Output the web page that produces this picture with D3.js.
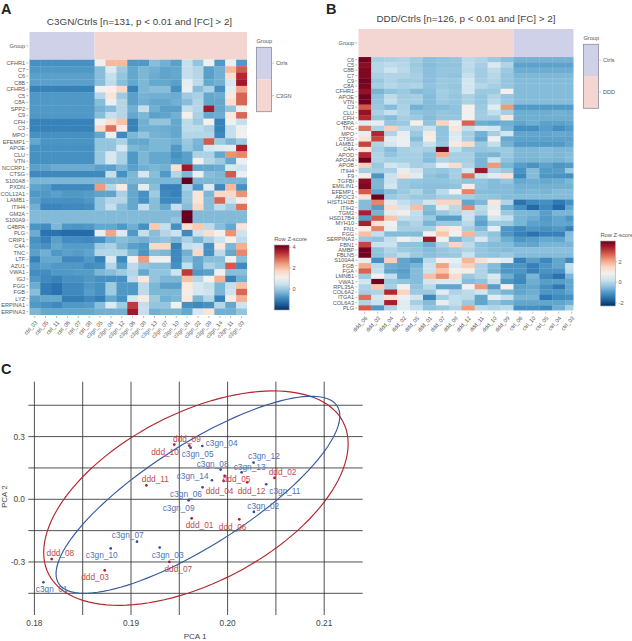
<!DOCTYPE html>
<html>
<head>
<meta charset="utf-8">
<script src="https://cdn.jsdelivr.net/npm/d3@7/dist/d3.min.js"></script>
<style>
html,body{margin:0;padding:0;background:#fff}
svg{display:block}
text{font-family:"Liberation Sans",Arial,sans-serif}
</style>
</head>
<body>
<svg id="fig" width="632" height="641"></svg>
<script>
// ---------- Panel A data ----------
const genesA = ["CFHR1","C7","C6","C8B","CFHR5","C5","C8A","SPP2","C9","CFH","C3","MPO","EFEMP1","APOE","CLU","VTN","NCCRP1","CTSG","S100A8","PXDN","COL12A1","LAMB1","ITIH4","GM2A","S100A9","C4BPA","PLG","CRIP1","C4A","TNC","LTF","AZU1","VWA1","IGJ","FGG","FGB","LYZ","ERPINA1","ERPINA3"];
const samplesA = ["ctrl_03","ctrl_05","ctrl_11","ctrl_06","ctrl_07","ctrl_08","c3gn_05","c3gn_04","c3gn_12","c3gn_06","c3gn_08","c3gn_13","c3gn_07","c3gn_10","c3gn_01","c3gn_02","c3gn_09","c3gn_14","c3gn_11","c3gn_03"];
const groupCountsA = [["Ctrls",6],["C3GN",14]];
const zA = [
[-.8,-.8,-.8,-.8,-.8,-.8, 1,2.1,2.1,-.7,-.7,-.2, -.4,-.6,.4,-.1,1,-.7,.9,-.7],
[-.7,-.7,-.7,-.7,-.7,-.7, -.2,.7,0,-.5,-.3,-.4, -.55,-.5,.4,.2,-.6,-.4,2.1,3],
[-.6,-.6,-.6,-.6,-.6,-.6, -.2,.4,-.1,-.5,-.3,-.45, -.55,-.5,.4,.2,-.6,-.4,1.6,3.5],
[-.6,-.6,-.6,-.6,-.6,-.6, -.2,.3,-.2,-.5,-.3,-.5, -.5,-.6,.8,.3,-.5,-.4,.6,3.7],
[-1,-1,-1,-1,-1,-1, 1.2,1.2,1.7,-1,-.3,-.2, -.2,-.8,.9,-.2,.1,-.8,.8,2.3],
[-.7,-.7,-.7,-.7,-.7,-.7, .2,1.5,0,-.6,-.35,-.4, -.4,-.45,0,.1,-.5,-.45,1.4,2.9],
[-.7,-.7,-.7,-.7,-.7,-.7, -.2,.9,.2,-.6,-.4,-.5, -.5,-.4,-.2,.2,-.5,-.5,1.6,2.9],
[-.7,-.7,-.7,-.7,-.7,-.7, -.35,-.2,.2,-.4,.4,-.4, -.6,-.6,.4,.2,3.7,-.5,-.1,1],
[-.7,-.7,-.7,-.7,-.7,-.7, -.2,.4,.2,-.5,-.3,-.6, -.55,-.4,1.2,.1,-.5,-.45,1.4,2.9],
[-1,-1,-1,-1,-1,-1, 1,1.6,2,-1,-.4,-.1, -.1,-.5,.3,0,1.1,-1,1,.4],
[-1,-1,-1,-1,-1,-1, 1.7,2.8,1.3,-1,-.4,-.4, -.45,-.5,.3,.3,.1,-1,.4,1],
[-.8,-.8,-.8,-.8,-.8,-.8, -.5,.9,-.9,-.3,-.1,-.35, -.4,-.5,.2,.2,.2,-.9,.4,1.1],
[-.5,-.75,-.75,-.75,-.75,-.75, -.1,-.1,.1,-.5,-.5,-.3, -.3,-.4,-.05,-.3,3,.0,-.3,.0],
[-.8,-.8,-.8,-.8,-.8,-.8, -.1,-.1,.6,-.3,-.4,-.3, -.3,-.7,-.1,-.35,.6,.7,.8,3.6],
[-.8,-.8,-.8,-.8,-.8,-.8, -.05,.6,.1,-.7,-.3,-.5, -.5,-.8,-.6,.1,.1,-.5,2.5,2.6],
[-.8,-.8,-.8,-.8,-.8,-.8, -.05,.6,.1,-.7,-.3,-.5, -.5,-.7,-.6,1.2,.2,0,-.5,.9],
[-.6,-.55,-.45,-.45,-.45,-.45, -.6,-.6,-.3,-.6,-.4,-.3, -.4,1.6,3.7,-.5,-.5,-.45,.6,.5],
[-.9,-.9,-.9,-.9,-.9,-.9, -.9,.4,-.8,-.3,.6,-.2, -.7,.2,-.3,.9,-.2,-.3,3,.9],
[-.3,-.3,-.3,-.3,-.3,-.3, -.3,-.3,-.3,-.3,-.3,-.3, -.3,-.3,4.2,-.3,-.3,-.3,-.3,-.3],
[-.55,-.65,-.9,-.9,-.9,-.9, 2.4,.2,1.3,-.5,.8,-.2, -1,-1,.1,-.7,.7,-.9,2.1,-.8],
[-.7,-.7,-.6,-.7,-.7,-.65, -.55,-.55,.1,-.5,-.8,0, -.9,-1,-.1,1.5,-.3,1.7,1.7,2.5],
[-.6,-.8,-.8,-.8,-.8,-.7, -.1,.2,.2,-.5,-.8,-.2, -.9,-.9,-.1,1.5,-.2,2.9,.5,1.2],
[-.4,-.95,-.95,-.9,-.9,-.85, -.1,.4,-.2,-.5,.4,-.2, -.5,.4,-.2,1.7,-.2,.3,0,2.8],
[-.25,-.25,-.25,-.25,-.25,-.25, -.25,-.25,-.25,-.25,-.25,-.25, -.25,-.25,4.2,-.25,-.25,-.25,-.25,-.25],
[-.25,-.25,-.25,-.25,-.25,-.25, -.25,-.25,-.25,-.25,-.25,-.25, -.25,-.1,4.2,-.25,-.25,-.25,-.25,-.25],
[-.75,-.85,-.3,-.7,-.75,-.7, -.5,-.5,-.7,-.4,-.8,1.9, .4,-.8,1.6,1.9,.3,-.2,-.5,1.5],
[-.45,-1.2,-1.2,-1.3,-1.3,-1.3, .8,2.3,.7,-.7,.4,-.2, .2,.5,-.9,.5,1.6,1.1,2.5,.5],
[-.8,-1,-.6,-.85,-.85,-.9, -.8,-.4,-.2,-.3,-.4,-.2, -.1,-.3,.1,-.3,.1,.5,1.2,.3],
[-.7,-.8,-.5,-.65,-.65,-.65, 0,.1,-.3,-.6,-.7,1.7, 1.7,-1,.4,.5,-.8,1.4,-.3,2.2],
[-.6,-.4,-.7,-.6,-.65,-.55, .2,.2,.2,-.3,-.75,-.2, -.3,-.9,-.4,1.7,-.8,.3,-.5,2.6],
[-1,-.5,-.5,-.9,-.9,-.7, -1,.7,-.9,1.1,2.4,1, 1,-.9,-.2,-.5,-.2,-.2,1,-.2],
[-.7,-.6,-.7,-.7,-.7,-.85, -.8,.2,-.6,.3,-.1,-.2, -.2,-.8,.4,-.5,.1,-.1,3,-.9],
[-.85,-.85,-.7,-.7,-.65,-.65, -.3,-.2,0,.2,-.5,-.1, -.1,.5,3.3,-.7,-.6,1,-.2,-.2],
[-.7,-.9,-1,-.8,-.8,-.7, -.8,-.8,-.8,.3,1.4,-.1, -.3,-.3,2,.2,1.2,2.2,-1,-.4],
[-.45,-1.05,-1.2,-.9,-.9,-.7, -.8,0,-.7,-.7,.3,-.3, -.6,-.6,1.4,.6,.4,-.3,.4,2],
[-.2,-1.05,-1.2,-.9,-.9,-.65, -.8,0,-.7,-.7,.3,-.3, -.3,-.3,1.3,.6,.5,-.3,.5,2.9],
[-.6,-.5,-.5,-1.05,-1.05,-.9, -1.05,-.5,-.8,.6,1.3,0, -.4,-.3,1.4,-.3,.2,-1,1.3,2.2],
[-.7,-.8,-.9,-.7,-.7,-.65, -.2,.7,0,3.3,.4,-.1, -.1,1.1,-.8,-.9,-.8,.2,-.5,.5],
[-.3,-.5,-.5,-.5,-.5,-.5, -.4,-.4,-.4,3.7,.4,-.4, -.3,-.3,-.5,.6,1.5,-.4,-.4,-.1]
];
// ---------- Panel B data ----------
const genesB = ["C6","C5","C8B","C7","C9","C8A","CFHR1","APOE","VTN","C3","CLU","CFH","C4BPA","TNC","MPO","CTSG","LAMB1","C4A","APOD","APOA4","APOB","ITIH4","F9","TGFBI","EMILIN1","EFEMP1","APOC3","HIST1H1B","ITIH2","TGM2","HSD17B4","MYH10","FN1","FGG","SERPINA3","FBN1","AMBP","FBLN5","S100A4","FGB","FGA","LMNB1","VWA1","RPL35A","COL6A2","ITGA1","COL6A3","PLG"];
const samplesB = ["ddd_06","ddd_03","ddd_04","ddd_02","ddd_05","ddd_01","ddd_07","ddd_08","ddd_12","ddd_11","ddd_10","ddd_09","ctrl_06","ctrl_10","ctrl_05","ctrl_04","ctrl_03"];
const groupCountsB = [["DDD",12],["Ctrls",5]];
const zB = [
[3.9,-.2,-.15,-.1,-.25,-.45,-.4,-.35,0,-.1,-.3,-.45,-.65,-.65,-.65,-.65,-.65],
[3.7,-.05,.05,-.05,-.3,-.5,-.4,-.4,.05,-.2,.4,-.1,-.85,-.85,-.85,-.85,-.85],
[3.8,-.05,.25,0,-.25,-.45,-.35,-.35,0,-.25,.05,-.3,-.7,-.7,-.7,-.7,-.7],
[3.8,-.15,-.1,-.1,-.2,-.45,-.35,-.4,.15,-.25,-.05,-.35,-.55,-.55,-.55,-.55,-.55],
[3.9,-.3,-.1,-.25,-.25,-.45,-.3,-.3,.3,-.2,-.1,-.35,-.5,-.5,-.5,-.5,-.5],
[3.85,-.2,-.05,-.15,-.1,-.4,-.3,-.35,.3,-.05,-.2,-.35,-.5,-.5,-.5,-.5,-.5],
[3.6,-.6,-.4,-.3,-.5,-.45,-.2,-.3,.3,-.3,-.3,.9,-.5,-.5,-.5,-.5,-.5],
[3.9,-.4,.05,-.25,-.2,-.5,-.25,-.35,-.15,-.35,-.1,-.35,-.5,-.5,-.5,-.5,-.5],
[3.9,-.35,.1,-.2,-.2,-.5,-.3,-.35,-.15,-.35,0,-.3,-.5,-.5,-.5,-.5,-.5],
[2.8,-.3,-.5,-.15,-.65,-.5,-.5,-.4,.9,-.3,.5,2.2,-.95,-.95,-.95,-.95,-.95],
[3.6,-.15,.15,-.1,-.4,-.45,-.35,-.4,.9,-.25,.1,-.2,-.7,-.7,-.7,-.65,-.7],
[3.3,-.35,-.5,-.2,-.3,-.5,-.35,-.35,.8,-.25,-.25,1.2,-.7,-.7,-.7,-.7,-.7],
[.5,.6,-.35,-.3,.9,-.4,1.5,.8,2.7,-.7,-.75,-.7,-.8,-.7,-.85,-.85,-.8],
[2.6,-.1,1.6,0,-.1,.2,-.4,1.2,.1,.4,.3,-.6,-1.1,-1.1,-.9,-1.1,-.95],
[.6,3.3,-.1,.6,-.3,1.1,-.4,.4,-.2,-.65,-.2,.3,-.8,-.8,-.8,-.75,-.8],
[1.3,3,.5,.7,-.5,1,-.4,.5,-.2,-.75,.85,-.75,-.85,-.85,-.85,-.85,-.85],
[3,-.1,.35,.7,-.2,.2,-.3,1.1,1.4,-.3,.1,-.65,-.95,-.95,-.95,-.95,-.8],
[1.3,-.2,-.5,-.2,-.1,-.2,3.9,.1,-.3,-.35,-.3,-.3,-.55,-.55,-.5,-.55,-.55],
[3.3,-.1,-.4,-.2,-.2,-.45,2,-.2,-.2,-.55,-.6,-.3,-.55,-.55,-.5,-.55,-.5],
[3.9,-.1,-.2,-.2,-.2,-.5,-.1,-.2,-.2,-.6,.2,-.4,-.6,-.6,-.55,-.6,-.5],
[1.6,-.3,.3,.1,-.2,-.1,.7,1.4,-.1,-.6,2.2,-.6,-.9,-1.05,-.85,-1,-.95],
[-.2,-.2,-.15,.6,.3,-.3,-.35,-.2,.3,3.5,-.1,-.3,-1.05,-.5,-.95,-.9,-.3],
[1,-1,.2,1.3,.5,-.4,-.5,-.2,2.6,.2,.5,1.3,-1.2,-.5,-1,-1.05,-1.1],
[3.7,-.55,.2,-.3,-.35,-.4,-.4,-.3,-.4,-.35,-.5,-.35,-.75,-.7,-.75,-.7,-.55],
[3.8,-.55,.3,-.3,-.4,-.45,-.45,-.4,1,-.4,-.5,-.5,-.65,-.65,-.65,-.65,-.65],
[2.8,-.8,-.5,-.3,-.1,-.45,0,.8,2.4,-.5,-.5,-.5,-.6,-.55,-.6,-.5,-.5],
[1.3,3.95,-.3,-.2,-.3,-.35,-.2,-.2,-.2,-.35,-.4,-.5,-.5,-.5,-.5,-.5,-.5],
[-.5,2.4,.5,.1,-.1,.3,1.5,1.5,-.8,-.55,1.2,-.1,-1.5,-1.2,-1.1,-1.4,-1.1],
[-.5,-.9,1.4,.3,1.8,-.5,.5,0,2.4,0,.5,-.7,-1.1,-1.6,-1.2,-1.6,-.8],
[3.4,-.6,.5,1,.1,-.6,-.3,-.1,.2,-.1,1,-.3,-.55,-.6,-.9,-.6,-.6],
[-.9,2.8,1.7,.1,.05,-.3,-.9,-.9,.2,-.7,.3,.1,-.6,-.7,-.95,-.8,-1],
[3.4,1.3,.8,-.3,-.1,-.6,-.3,-.3,0,-.85,-.3,-.3,-.6,-.85,-.9,-.8,-.85],
[1,2.4,.6,-.2,-.2,-.2,1.3,1.1,-.2,-.5,.6,-1,-1.2,-1,-1.1,-1,-1.3],
[1.8,.1,-.5,-.5,-.5,.8,1.7,.8,1.9,-.2,-.4,-1,-1.3,-1.5,-1.3,-1.3,-.5],
[-.3,-.4,.1,.8,.4,3.5,.8,-.6,-.2,.4,-.3,-.7,-1,-.9,-.75,-.8,-.45],
[3,.2,.2,-.4,-.4,-.7,-.1,1.5,.05,-.4,-.5,-.5,-.75,-.8,-.6,-.6,-.6],
[3.9,-.4,-.1,-.3,-.35,-.5,-.35,-.25,-.1,-.35,-.45,-.5,-.45,-.45,-.45,-.45,-.45],
[3.9,-.4,-.2,.05,-.3,-.45,-.35,-.3,.2,-.35,-.4,-.3,-.5,-.5,-.5,-.5,-.5],
[.6,-1.1,1.6,-.8,-1,0,.9,.6,1.9,1.3,.85,.5,-1.3,-.9,-1.2,-.8,-1.2],
[2,0,-.7,-.8,-.6,.2,2.1,.4,1.6,-.1,-.5,-1,-1,-1.3,-1,-.8,.1],
[2.7,.1,-.8,-.9,-.5,.2,1.7,.9,1,-.1,-.6,-1,-1,-1.3,-1.05,-1.05,0],
[-.3,.9,.1,-.8,-.5,1.8,2.3,1.4,-.3,-.1,.4,-.7,-1.15,-.6,-1.2,-1.5,-.6],
[.3,3.9,-.3,-.4,-.5,.3,.4,.4,-.5,-.4,.2,-1,-1.2,-.7,-.9,-.9,-.8],
[-.1,1.7,-.2,.85,-.4,0,-.8,-.8,.9,2.2,-.9,.85,-.85,-.8,-1.1,-1.4,-.8],
[-.2,-.1,3.3,1.5,-.3,-.3,.5,-.1,.05,.3,-.35,-.6,-.8,-.7,-1,-1,-.8],
[2.6,.3,1.3,.7,.3,-1.2,-.2,.1,0,-.8,.5,.1,-.6,-.6,-1.4,-1.15,-1.1],
[-.1,.2,3.4,.5,-.2,-.5,.6,.1,-.3,-.8,-.4,-.6,-.8,-.8,-.8,-.8,-.7],
[2.8,-1,-.1,.5,.1,-.4,-.3,-.1,2.2,0,-.1,0,-1.1,-1.1,-1.2,-.7,-.2]
];
// ---------- Panel C data ----------
const c3gnNames = ["c3gn_01","c3gn_02","c3gn_03","c3gn_04","c3gn_05","c3gn_06","c3gn_07","c3gn_08","c3gn_09","c3gn_10","c3gn_11","c3gn_12","c3gn_13","c3gn_14"];
const c3gnPC1 = [.18093,.20272,.19297,.19738,.19617,.19741,.19062,.19928,.19597,.1879,.204,.20269,.20145,.19838];
const c3gnPC2 = [-.397,-.0606,-.231,.255,.247,.0574,-.203,.142,-.005,-.235,.072,.1755,.129,.091];
const dddNames = ["ddd_01","ddd_02","ddd_03","ddd_04","ddd_05","ddd_06","ddd_07","ddd_08","ddd_09","ddd_10","ddd_11","ddd_12"];
const dddPC1 = [.19628,.20486,.18728,.19959,.19969,.20121,.19397,.18179,.19603,.19448,.19159,.20203];
const dddPC2 = [-.091,.102,-.34,.088,.112,-.096,-.30,-.286,.257,.262,.067,.081];
// label positions (repelled), expressed in PCA units
const c3gnLabelPC1 = [.18179,.20369,.19379,.19938,.19690,.19569,.18966,.19845,.19493,.18697,.20593,.20376,.20228,.19638];
const c3gnLabelPC2 = [-.431,-.032,-.266,.268,.217,.0255,-.173,.167,-.040,-.268,.038,.206,.155,.112];
const dddLabelPC1 = [.19710,.20569,.18628,.19917,.20093,.20052,.19490,.18269,.19579,.19352,.19252,.20248];
const dddLabelPC2 = [-.123,.131,-.372,.041,.096,-.131,-.333,-.255,.289,.227,.097,.040];
const pcaXTicks = [.18,.19,.20,.21];
const pcaYTicks = [-.3,0,.3];
const pcaXGrid = [.18,.185,.19,.195,.20,.205,.21];
const pcaYGrid = [-.45,-.3,-.15,0,.15,.3,.45];
const ellipseRed = {cx:.19672,cy:.0056,a:.01576,b:.513,phi:59.5};
const ellipseBlue = {cx:.19693,cy:.0215,a:.01469,b:.4715,phi:36.8};

// ---------- styles ----------
const svg = d3.select("#fig");
const GREY = "#555", DARK = "#333";
const groupColor = {Ctrls:"#cfd1e9", C3GN:"#f3d5d2", DDD:"#f3d5d2"};
const heatColor = dom => d3.scaleSequential(t => d3.interpolateRdBu(1 - t)).domain(dom);

function text(g, x, y, s, o = {}) {
  return g.append("text").attr("x", x).attr("y", y).text(s)
    .attr("font-size", o.size || 5.6).attr("fill", o.fill || GREY)
    .attr("text-anchor", o.anchor || "start")
    .attr("dominant-baseline", "central")
    .attr("font-weight", o.weight || null);
}

function heatmap(o) {
  const g = svg.append("g");
  const cols = d3.scaleBand().domain(o.samples).range([o.x0, o.x0 + o.colW * o.samples.length]);
  const rows = d3.scaleBand().domain(o.genes).range([o.y0, o.y1]);
  const color = heatColor(o.dom);
  const id = o.id;
  g.append("clipPath").attr("id", id).append("rect")
    .attr("x", o.x0).attr("y", o.top).attr("width", o.x1 - o.x0).attr("height", o.y1 - o.top);
  const body = g.append("g").attr("clip-path", `url(#${id})`);
  // group annotation
  let start = 0;
  o.groups.forEach(([name, n]) => {
    body.append("rect").attr("x", cols(o.samples[start])).attr("y", o.top)
      .attr("width", cols.step() * n).attr("height", o.y0 - o.top)
      .attr("fill", groupColor[name]);
    start += n;
  });
  // cells
  o.z.forEach((row, i) => {
    body.selectAll(null).data(row).join("rect")
      .attr("x", (d, j) => cols(o.samples[j]))
      .attr("y", rows(o.genes[i]))
      .attr("width", cols.bandwidth()+.3)
      .attr("height", rows.bandwidth()+.3)
      .attr("fill", d => color(d));
  });
  // left axis
  const tickL = g.append("g");
  tickL.selectAll("line").data(o.genes).join("line")
    .attr("x1", o.x0 - 3).attr("x2", o.x0 - 1)
    .attr("y1", d => rows(d) + rows.bandwidth() / 2)
    .attr("y2", d => rows(d) + rows.bandwidth() / 2)
    .attr("stroke", "#777").attr("stroke-width", .5);
  o.genes.forEach(d => text(g, o.x0 - 4.2, rows(d) + rows.bandwidth() / 2, d, {anchor: "end"}));
  const gy = (o.top + o.y0) / 2;
  g.append("line").attr("x1", o.x0 - 3).attr("x2", o.x0 - 1).attr("y1", gy).attr("y2", gy).attr("stroke", "#777").attr("stroke-width", .5);
  text(g, o.x0 - 4.2, gy, "Group", {anchor: "end"});
  // bottom axis
  o.samples.forEach(d => {
    const cx = cols(d) + cols.bandwidth() / 2;
    g.append("line").attr("x1", cx).attr("x2", cx).attr("y1", o.y1 + 1).attr("y2", o.y1 + 3)
      .attr("stroke", "#777").attr("stroke-width", .5);
    g.append("text").attr("transform", `translate(${cx + 1.5},${o.y1 + 6.5}) rotate(-48)`)
      .attr("text-anchor", "end").attr("dominant-baseline", "central")
      .attr("font-size", 5.6).attr("fill", GREY).text(d);
  });
  // title
  text(g, o.titleX, o.titleY, o.title, {size: 9.9, anchor: "middle", fill: "#444"});
  // group legend
  const L = o.legend;
  text(g, L.x, L.y - 6.5, "Group", {size: 5.6});
  const h1 = L.split - L.y;
  const firstTwo = [L.names[0], L.names[1]];
  g.append("rect").attr("x", L.x).attr("y", L.y).attr("width", L.w).attr("height", h1).attr("fill", groupColor[firstTwo[0]]);
  g.append("rect").attr("x", L.x).attr("y", L.split).attr("width", L.w).attr("height", L.y2 - L.split).attr("fill", groupColor[firstTwo[1]]);
  g.append("rect").attr("x", L.x).attr("y", L.y).attr("width", L.w).attr("height", L.y2 - L.y)
    .attr("fill", "none").attr("stroke", "#8c8c9e").attr("stroke-width", .8);
  [[firstTwo[0], (L.y + L.split) / 2], [firstTwo[1], (L.split + L.y2) / 2]].forEach(([n, y]) => {
    g.append("line").attr("x1", L.x + L.w + 1).attr("x2", L.x + L.w + 2.5).attr("y1", y).attr("y2", y).attr("stroke", "#777").attr("stroke-width", .5);
    text(g, L.x + L.w + 4.5, y, n);
  });
  // colour bar
  const C = o.bar;
  text(g, C.x, C.y - 6.5, "Row Z-score", {size: 5.8});
  const yb = d3.scaleLinear().domain(o.dom).range([C.y + C.h, C.y]);
  const defs = g.append("linearGradient").attr("id", id + "g").attr("x1", 0).attr("x2", 0).attr("y1", 1).attr("y2", 0);
  d3.range(11).forEach(i => defs.append("stop").attr("offset", i / 10).attr("stop-color", color(o.dom[0] + (o.dom[1] - o.dom[0]) * i / 10)));
  g.append("rect").attr("x", C.x).attr("y", C.y).attr("width", C.w).attr("height", C.h)
    .attr("fill", `url(#${id}g)`).attr("stroke", "#aaa").attr("stroke-width", .6);
  C.ticks.forEach(t => {
    g.append("line").attr("x1", C.x + C.w).attr("x2", C.x + C.w + 1.5).attr("y1", yb(t)).attr("y2", yb(t)).attr("stroke", "#777").attr("stroke-width", .5);
    text(g, C.x + C.w + 3.2, yb(t), d3.format("d")(t).replace("−", "-"));
  });
}

heatmap({id:"hA", samples:samplesA, genes:genesA, z:zA, groups:groupCountsA,
  x0:29.3, colW:10.885, x1:247.1, top:32, y0:59.7, y1:315, dom:[-2,4.2],
  title:"C3GN/Ctrls [n=131, p < 0.01 and [FC] > 2]", titleX:139.5, titleY:21.8,
  legend:{x:256.5,y:47.3,w:15,split:79.3,y2:111.7,names:["Ctrls","C3GN"]},
  bar:{x:274.2,y:245,w:15,h:65,ticks:[0,2,4]}});

heatmap({id:"hB", samples:samplesB, genes:genesB, z:zB, groups:groupCountsB,
  x0:358.3, colW:12.93, x1:573.5, top:28.7, y0:57.06, y1:310.6, dom:[-2.3,4],
  title:"DDD/Ctrls [n=126, p < 0.01 and [FC] > 2]", titleX:466, titleY:18.3,
  legend:{x:583.5,y:44.3,w:15,split:76,y2:108.3,names:["Ctrls","DDD"]},
  bar:{x:600.4,y:241,w:15,h:65,ticks:[-2,0,2]}});

// ---------- Panel C ----------
const px = d3.scaleLinear().domain([.18,.21]).range([34.4,324.2]);
const py = d3.scaleLinear().domain([-.3,.3]).range([561.97,436.6]);
const gc = svg.append("g");
gc.selectAll(".v").data(pcaXGrid).join("line").attr("class","v")
  .attr("x1", px).attr("x2", px).attr("y1", 381.7).attr("y2", 615)
  .attr("stroke", DARK).attr("stroke-width", .85);
gc.selectAll(".h").data(pcaYGrid).join("line").attr("class","h")
  .attr("y1", py).attr("y2", py).attr("x1", 28.3).attr("x2", 362.7)
  .attr("stroke", DARK).attr("stroke-width", .85);
pcaXTicks.forEach(t => text(gc, px(t), 623, d3.format(".2f")(t), {size: 8.3, anchor: "middle", fill: "#444"}));
pcaYTicks.forEach(t => text(gc, 25, py(t), d3.format(".1f")(t).replace("−", "-"), {size: 8.3, anchor: "end", fill: "#444"}));
text(gc, 195, 636, "PCA 1", {size: 8, anchor: "middle", fill: "#444"});
gc.append("text").attr("transform", "translate(4.5,496.7) rotate(-90)")
  .attr("text-anchor", "middle").attr("dominant-baseline", "central")
  .attr("font-size", 8).attr("fill", "#444").text("PCA 2");

const ellipseLine = e => d3.line().curve(d3.curveLinearClosed)
  (d3.range(0, 360, 3).map(deg => {
    const t = deg * Math.PI / 180;
    return [px(e.cx + e.a * Math.cos(t)), py(e.cy + e.b * Math.cos(t - e.phi * Math.PI / 180))];
  }));
gc.append("path").attr("d", ellipseLine(ellipseRed)).attr("fill","none").attr("stroke","#b2262c").attr("stroke-width",1.15);
gc.append("path").attr("d", ellipseLine(ellipseBlue)).attr("fill","none").attr("stroke","#36589f").attr("stroke-width",1.15);

function pts(names, xs, ys, lx, ly, ptColor, txtColor) {
  names.forEach((n, i) => {
    gc.append("circle").attr("cx", px(xs[i])).attr("cy", py(ys[i])).attr("r", 1.35).attr("fill", ptColor);
  });
  names.forEach((n, i) => text(gc, px(lx[i]), py(ly[i]), n, {size: 8.3, anchor: "middle", fill: txtColor}));
}
pts(c3gnNames, c3gnPC1, c3gnPC2, c3gnLabelPC1, c3gnLabelPC2, "#2f4f9b", "#5272b3");
pts(dddNames, dddPC1, dddPC2, dddLabelPC1, dddLabelPC2, "#b2182b", "#c5494f");

// panel letters
[["A",1,9],["B",326,9],["C",1,369]].forEach(([s,x,y]) => text(svg, x, y, s, {size: 14.5, weight: "bold", fill: "#222"}));
</script>
</body>
</html>
